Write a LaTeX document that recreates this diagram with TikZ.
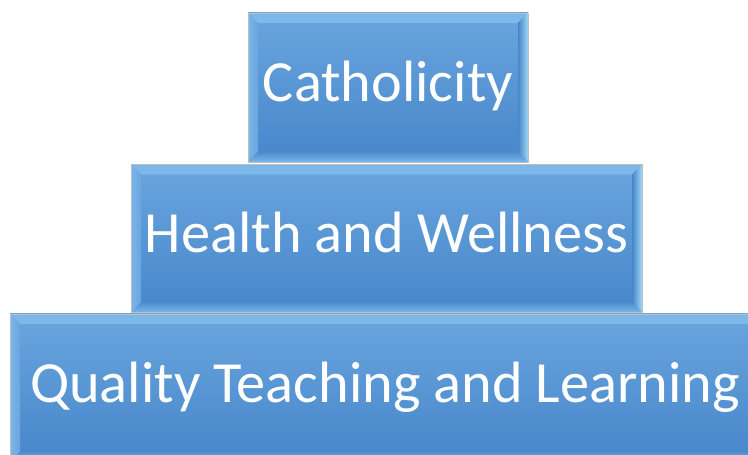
\documentclass[tikz,border=0pt]{standalone}
\usepackage{fontspec}
\setmainfont{Carlito}
\usepackage{tikz}
\usetikzlibrary{positioning}
\definecolor{tierTop}{RGB}{106,165,222}
\definecolor{tierBot}{RGB}{70,134,202}
\definecolor{bevelHi}{RGB}{205,240,254}
\definecolor{bevelSide}{RGB}{122,182,234}
\definecolor{bevelRight}{RGB}{160,214,246}
\definecolor{bevelLow}{RGB}{78,140,206}
\tikzstyle{tier} = [rectangle,draw=black!25,top color=tierTop,bottom color=tierBot,
	text=white,inner sep=0pt,text height=40pt,text depth=11pt,
	font=\fontsize{58.3}{60}\selectfont,
	path picture={
		\def\b{10pt}
		%top bevel
		\shade[top color=bevelSide,bottom color=bevelHi] (path picture bounding box.north west) -- (path picture bounding box.north east)
			-- ([shift={(-\b,-\b)}]path picture bounding box.north east) -- ([shift={(\b,-\b)}]path picture bounding box.north west) -- cycle;
		%left bevel
		\shade[left color=bevelSide,right color=tierTop] (path picture bounding box.north west) -- ([shift={(\b,-\b)}]path picture bounding box.north west)
			-- ([shift={(\b,\b)}]path picture bounding box.south west) -- (path picture bounding box.south west) -- cycle;
		%right bevel
		\shade[left color=tierBot,right color=bevelRight] (path picture bounding box.north east) -- ([shift={(-\b,-\b)}]path picture bounding box.north east)
			-- ([shift={(-\b,\b)}]path picture bounding box.south east) -- (path picture bounding box.south east) -- cycle;
		%bottom bevel
		\shade[top color=bevelLow,bottom color=bevelSide] (path picture bounding box.south west) -- (path picture bounding box.south east)
			-- ([shift={(-\b,\b)}]path picture bounding box.south east) -- ([shift={(\b,\b)}]path picture bounding box.south west) -- cycle;
	}]

\begin{document}
\begin{tikzpicture}[x=1pt,y=1pt]
	\clip (0,0) rectangle (748,455);

	%top tier
	\node (cath) [tier,minimum width=280pt,minimum height=149pt] at (388,367.5) {Catholicity};
	%middle tier
	\node (health) [tier,minimum width=511pt,minimum height=148pt,below=2pt of cath,xshift=-1.5pt] {Health and Wellness};
	%base tier
	\node (quality) [tier,minimum width=750pt,minimum height=148pt,below=1pt of health,xshift=-1.5pt] {Quality Teaching and Learning};
\end{tikzpicture}
\end{document}
